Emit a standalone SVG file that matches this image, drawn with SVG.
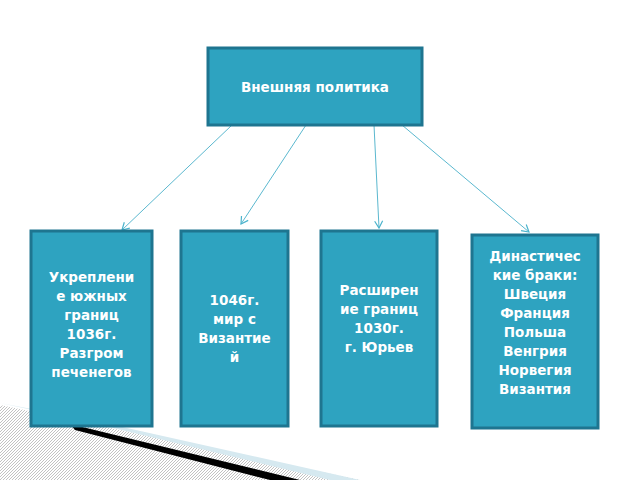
<svg xmlns="http://www.w3.org/2000/svg" width="640" height="480" viewBox="0 0 640 480">
<defs>
<pattern id="h" width="3" height="3" patternUnits="userSpaceOnUse"><rect width="3" height="3" fill="#fff"/><path d="M0,3L3,0" stroke="#999" stroke-width="0.6"/></pattern>
<marker id="a" markerWidth="10" markerHeight="10" refX="8" refY="5" orient="auto" markerUnits="userSpaceOnUse"><path d="M1,1L8,5L1,9" fill="none" stroke="#4bb3cc" stroke-width="1.2"/></marker>
<style>.b{fill:#2ea3c0;stroke:#1e7590;stroke-width:3}.t{font-family:"DejaVu Sans",sans-serif;font-weight:bold;font-size:13.5px;fill:#fff;text-anchor:middle}.c{stroke:#5bb8cf;stroke-width:1;fill:none;marker-end:url(#a)}</style>
</defs>
<rect width="640" height="480" fill="#fff"/>
<polygon points="0,405 360,480 0,480" fill="url(#h)"/>
<polygon points="0,403 100,422 360,480 330,480 80,420" fill="#d6e9f0"/>
<polygon points="70,424 300,480 270,480 75,430" fill="#000"/>
<g id="connectors">
<line class="c" x1="232" y1="125" x2="122" y2="230"/>
<line class="c" x1="306" y1="125" x2="241" y2="224"/>
<line class="c" x1="374" y1="125" x2="379" y2="228"/>
<line class="c" x1="402" y1="125" x2="529" y2="232"/>
</g>
<g id="top"><rect class="b" x="208" y="48" width="214" height="77"/><text class="t" x="315" y="92">Внешняя политика</text></g>
<g id="n1"><rect class="b" x="31" y="231" width="121" height="195"/><text class="t" x="91.5" y="282"><tspan x="91.5">Укреплени</tspan><tspan x="91.5" dy="19">е южных</tspan><tspan x="91.5" dy="19">границ</tspan><tspan x="91.5" dy="19">1036г.</tspan><tspan x="91.5" dy="19">Разгром</tspan><tspan x="91.5" dy="19">печенегов</tspan></text></g>
<g id="n2"><rect class="b" x="181" y="231" width="107" height="195"/><text class="t" x="234.5" y="305"><tspan x="234.5">1046г.</tspan><tspan x="234.5" dy="19">мир с</tspan><tspan x="234.5" dy="19">Византие</tspan><tspan x="234.5" dy="19">й</tspan></text></g>
<g id="n3"><rect class="b" x="321" y="231" width="116" height="195"/><text class="t" x="379" y="295"><tspan x="379">Расширен</tspan><tspan x="379" dy="19">ие границ</tspan><tspan x="379" dy="19">1030г.</tspan><tspan x="379" dy="19">г. Юрьев</tspan></text></g>
<g id="n4"><rect class="b" x="472" y="235" width="126" height="193"/><text class="t" x="535" y="261"><tspan x="535">Династичес</tspan><tspan x="535" dy="19">кие браки:</tspan><tspan x="535" dy="19">Швеция</tspan><tspan x="535" dy="19">Франция</tspan><tspan x="535" dy="19">Польша</tspan><tspan x="535" dy="19">Венгрия</tspan><tspan x="535" dy="19">Норвегия</tspan><tspan x="535" dy="19">Византия</tspan></text></g>
</svg>
